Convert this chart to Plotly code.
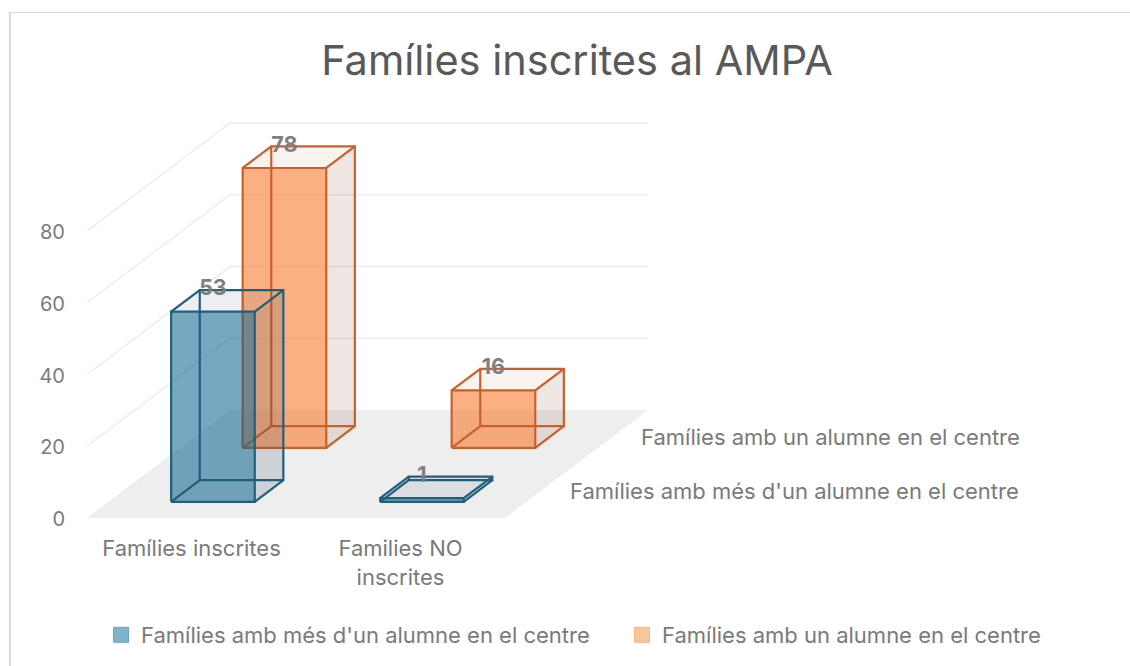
import plotly.graph_objects as go

title = "Famílies inscrites al AMPA"
categories = ["Famílies inscrites", "Families NO<br>inscrites"]
series_names = ["Famílies amb més d'un alumne en el centre", "Famílies amb un alumne en el centre"]
values_more = [53, 1]
values_one = [78, 16]
y_ticks = [0, 20, 40, 60, 80]

PX_CAT = 209.0
PX_VAL = 3.5875
DX = 71.5 / PX_CAT      # oblique projection of one depth unit, in category units
DY = 54.0 / PX_VAL      # oblique projection of one depth unit, in value units
L, B, T = 87, 148, 90
W, H = 1130, 666
FONT = "Inter"
TXT = "#7a7a7a"

def proj(c, d, v):
    return c + d * DX, v + d * DY

fig = go.Figure()

def poly(pts, color, line=None):
    xs = [p[0] for p in pts] + [pts[0][0]]
    ys = [p[1] for p in pts] + [pts[0][1]]
    fig.add_trace(go.Scatter(x=xs, y=ys, mode="lines", fill="toself", fillcolor=color,
                             line=dict(width=0), hoverinfo="skip", showlegend=False))

# floor
n = len(categories)
poly([proj(0, 0, 0), proj(n, 0, 0), proj(n, 2, 0), proj(0, 2, 0)], "#eeeeee")

# gridlines
gx, gy = [], []
for t in y_ticks[1:]:
    for c, d in [(0, 0), (0, 2), (n, 2)]:
        x, y = proj(c, d, t)
        gx.append(x); gy.append(y)
    gx.append(None); gy.append(None)
fig.add_trace(go.Scatter(x=gx, y=gy, mode="lines", line=dict(color="#f0f0f0", width=2),
                         hoverinfo="skip", showlegend=False))

def bar(ci, si, v, style):
    c0, c1 = ci + 0.3, ci + 0.7
    d0, d1 = si + 0.3, si + 0.7
    P = lambda c, d, z: proj(c, d, z)
    # right side, top, front
    poly([P(c1, d0, 0), P(c1, d1, 0), P(c1, d1, v), P(c1, d0, v)], style["side"])
    poly([P(c0, d0, v), P(c1, d0, v), P(c1, d1, v), P(c0, d1, v)], style["top"])
    poly([P(c0, d0, 0), P(c1, d0, 0), P(c1, d0, v), P(c0, d0, v)], style["front"])
    edges = [
        [P(c0, d0, 0), P(c1, d0, 0), P(c1, d0, v), P(c0, d0, v), P(c0, d0, 0)],
        [P(c0, d1, 0), P(c1, d1, 0), P(c1, d1, v), P(c0, d1, v), P(c0, d1, 0)],
        [P(c0, d0, 0), P(c0, d1, 0)], [P(c1, d0, 0), P(c1, d1, 0)],
        [P(c0, d0, v), P(c0, d1, v)], [P(c1, d0, v), P(c1, d1, v)],
    ]
    ex, ey = [], []
    for e in edges:
        for p in e:
            ex.append(p[0]); ey.append(p[1])
        ex.append(None); ey.append(None)
    fig.add_trace(go.Scatter(x=ex, y=ey, mode="lines", line=dict(color=style["edge"], width=2.2),
                             hoverinfo="skip", showlegend=False))

style_blue = dict(front="rgba(14,100,143,0.56)", side="rgba(40,70,100,0.17)",
                  top="rgba(40,70,100,0.09)", edge="#1f5f7c")
style_orange = dict(front="rgba(248,119,43,0.58)", side="rgba(120,60,30,0.12)",
                    top="rgba(150,80,30,0.07)", edge="#c9602a")

for si, (vals, st) in reversed(list(enumerate([(values_more, style_blue), (values_one, style_orange)]))):
    for ci, v in enumerate(vals):
        bar(ci, si, v, st)

# value labels
lx, ly, lt = [], [], []
for si, vals in enumerate([values_more, values_one]):
    for ci, v in enumerate(vals):
        x, y = proj(ci + 0.5, si + 0.3, v)
        bx, by = proj(ci + 0.5, si + 0.7, v)
        lx.append(x); ly.append(by); lt.append(str(v))
fig.add_trace(go.Scatter(x=lx, y=ly, mode="text", text=lt, textposition="middle center",
                         textfont=dict(family=FONT, size=21.5, color="#7f7f7f", weight="bold"),
                         hoverinfo="skip", showlegend=False))

# legend entries, one legend per series so each sits at its own place
legend_fill = ["#7fb4d0", "#fbc49b"]
legend_edge = ["#6ea3bf", "#f5b588"]
legend_ids = ["legend", "legend2"]
for name, fc, ec, lid in zip(series_names, legend_fill, legend_edge, legend_ids):
    fig.add_trace(go.Scatter(x=[None], y=[None], mode="markers", name=name, legend=lid,
                             marker=dict(symbol="square", size=15, color=fc, line=dict(color=ec, width=1))))

def legend_at(px):
    return dict(orientation="h", x=(px - L) / (W - L), xanchor="left",
                y=(H - B - 635) / (H - T - B), yanchor="middle",
                font=dict(family=FONT, size=22, color=TXT),
                bgcolor="rgba(0,0,0,0)", itemclick=False, itemdoubleclick=False)

# depth axis labels
annotations = []
for si, name in enumerate(series_names):
    x, y = proj(n, si + 0.5, 0)
    annotations.append(dict(x=x, y=y, xref="x", yref="y", text=name, showarrow=False, xanchor="left",
                            yanchor="middle", xshift=27, font=dict(family=FONT, size=22, color=TXT)))

fig.update_layout(
    width=W, height=H, autosize=False,
    paper_bgcolor="white", plot_bgcolor="white",
    margin=dict(l=L, r=0, t=T, b=B, autoexpand=False),
    title=dict(text=title, x=577 / W, xanchor="center", y=1 - 60 / H, yanchor="middle",
               font=dict(family=FONT, size=41.5, color="#595959")),
    xaxis=dict(range=[0, (W - L) / PX_CAT], tickmode="array", tickvals=[0.5, 1.5], ticktext=categories,
               showgrid=False, zeroline=False, showline=False, ticks="outside", ticklen=11,
               tickcolor="rgba(0,0,0,0)", tickfont=dict(family=FONT, size=22, color=TXT)),
    yaxis=dict(range=[0, (H - T - B) / PX_VAL], tickmode="array", tickvals=y_ticks,
               showgrid=False, zeroline=False, showline=False, ticks="outside", ticklen=17,
               ticklabelshift=1,
               tickcolor="rgba(0,0,0,0)", tickfont=dict(family=FONT, size=20, color=TXT)),
    showlegend=True,
    legend=legend_at(101),
    legend2=legend_at(622),
    annotations=annotations,
    shapes=[
        dict(type="line", xref="paper", yref="paper", x0=(10 - L) / (W - L), x1=(10 - L) / (W - L),
             y0=(H - B - 666) / (H - T - B), y1=(H - B - 12) / (H - T - B), line=dict(color="#dcdcdc", width=2)),
        dict(type="line", xref="paper", yref="paper", x0=(9 - L) / (W - L), x1=1,
             y0=(H - B - 12.5) / (H - T - B), y1=(H - B - 12.5) / (H - T - B), line=dict(color="#d9d9d9", width=1)),
    ],
)

fig.write_html("out.html", config=dict(displayModeBar=False),
               post_script="document.body.style.margin='0';document.body.style.overflow='hidden';")
